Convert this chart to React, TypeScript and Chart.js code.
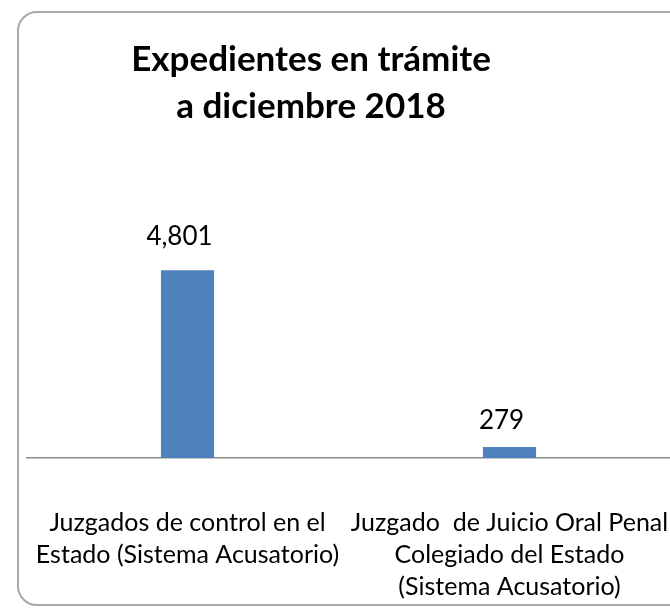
import React, { useEffect, useRef } from "react";
import { Chart, registerables } from "chart.js";

Chart.register(...registerables);

const titleLines = ["Expedientes en trámite", "a diciembre 2018"];
const categories = [
  ["Juzgados de control en el", "Estado (Sistema Acusatorio)"],
  ["Juzgado  de Juicio Oral Penal", "Colegiado del Estado", "(Sistema Acusatorio)"],
];
const expedientes = [4801, 279];

const FONT = "Lato, 'Open Sans', sans-serif";

const titlePlugin = {
  id: "customTitle",
  afterDraw(chart: any) {
    const ctx = chart.ctx;
    ctx.save();
    ctx.fillStyle = "#000";
    ctx.font = `bold 35px ${FONT}`;
    ctx.textAlign = "center";
    ctx.textBaseline = "alphabetic";
    titleLines.forEach((t, i) => ctx.fillText(t, 311, 71 + i * 47));
    ctx.restore();
  },
};

const valueLabels = {
  id: "valueLabels",
  afterDatasetsDraw(chart: any) {
    const ctx = chart.ctx;
    const meta = chart.getDatasetMeta(0);
    ctx.save();
    ctx.fillStyle = "#000";
    ctx.font = `26px ${FONT}`;
    ctx.textAlign = "center";
    ctx.textBaseline = "alphabetic";
    meta.data.forEach((el: any, i: number) => {
      const v = chart.data.datasets[0].data[i];
      ctx.fillText(v.toLocaleString("en-US"), el.x - 8, el.y - (i === 0 ? 25 : 18));
    });
    ctx.restore();
  },
};

export default function App() {
  const ref = useRef<HTMLCanvasElement>(null);
  useEffect(() => {
    if (!ref.current) return;
    const chart = new Chart(ref.current, {
      type: "bar",
      data: {
        labels: categories,
        datasets: [
          {
            data: expedientes,
            backgroundColor: "#4f81bd",
            borderWidth: 0,
            categoryPercentage: 1,
            barPercentage: 0.165,
          },
        ],
      },
      options: {
        animation: false,
        responsive: false,
        maintainAspectRatio: false,
        layout: { padding: { top: 200, left: 26.5, right: 49.5, bottom: 0 } },
        plugins: {
          legend: { display: false },
          title: { display: false },
          tooltip: { enabled: false },
        },
        scales: {
          x: {
            offset: true,
            grid: { display: false, drawTicks: false },
            border: { display: true, color: "#8c8c8c", width: 1.5 },
            ticks: {
              color: "#000",
              font: { family: FONT, size: 25, lineHeight: 1.28 },
              padding: 49,
              maxRotation: 0,
              autoSkip: false,
            },
            afterFit(scale: any) {
              scale.height = 153;
              scale.paddingLeft = 0;
              scale.paddingRight = 0;
            },
          },
          y: {
            display: false,
            min: 0,
            max: 6600,
          },
        },
      },
      plugins: [titlePlugin, valueLabels],
    });
    return () => chart.destroy();
  }, []);
  return (
    <div
      style={{
        position: "fixed",
        left: 0,
        top: 0,
        width: 670,
        height: 611,
        overflow: "hidden",
        background: "#fff",
      }}
    >
      <div
        style={{
          position: "absolute",
          left: 17,
          top: 11,
          width: 720,
          height: 595,
          border: "2px solid #a9a9a9",
          borderRadius: 20,
          boxSizing: "border-box",
        }}
      />
      <canvas
        ref={ref}
        width={720}
        height={611}
        style={{ position: "absolute", left: 0, top: 0, width: 720, height: 611 }}
      />
    </div>
  );
}
